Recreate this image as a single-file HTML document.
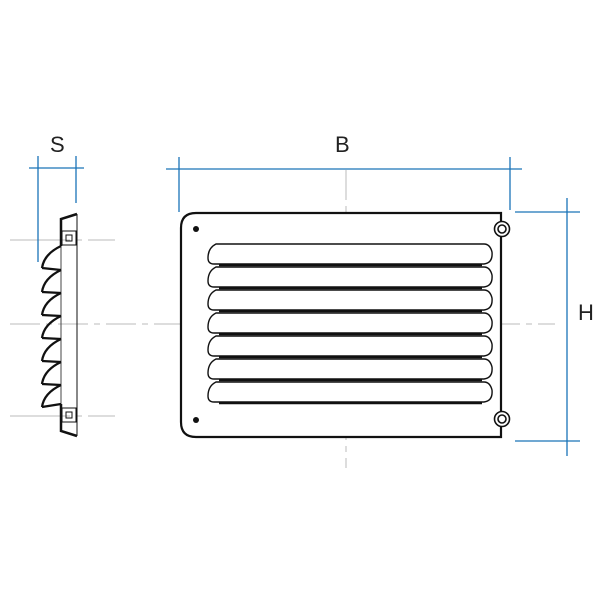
<!DOCTYPE html>
<html><head><style>body{margin:0;background:#fff}svg{display:block}text{font-family:"Liberation Sans",sans-serif;font-size:22px;fill:#222}</style></head><body>
<svg width="600" height="600" viewBox="0 0 600 600" xmlns="http://www.w3.org/2000/svg">
<g stroke="#bbb" stroke-width="1" fill="none">
<line x1="10" y1="324" x2="555" y2="324" stroke-dasharray="30,6,6,6"/>
<line x1="346" y1="170" x2="346" y2="468" stroke-dasharray="30,6,6,6"/>
<line x1="10" y1="240" x2="115" y2="240" stroke-dasharray="60,6,6,6"/>
<line x1="10" y1="416" x2="115" y2="416" stroke-dasharray="60,6,6,6"/>
</g>
<g stroke="#1a73b8" stroke-width="1.3" fill="none">
<line x1="166" y1="169" x2="522" y2="169"/><line x1="179" y1="157" x2="179" y2="212"/><line x1="510" y1="157" x2="510" y2="210"/>
<line x1="567" y1="198" x2="567" y2="456"/><line x1="515" y1="212" x2="580" y2="212"/><line x1="515" y1="441" x2="580" y2="441"/>
<line x1="29" y1="168" x2="84" y2="168"/><line x1="38" y1="156" x2="38" y2="262"/><line x1="76" y1="156" x2="76" y2="203"/>
</g>
<text x="335" y="152">B</text><text x="50" y="152">S</text><text x="578" y="320">H</text>
<path d="M196 213 H501 V437 H196 Q181 437 181 422 V228 Q181 213 196 213 Z" fill="#fff" stroke="#111" stroke-width="2.2"/>
<circle cx="196" cy="229" r="3" fill="#111"/><circle cx="196" cy="420" r="3" fill="#111"/>
<g fill="#fff" stroke="#111" stroke-width="1.6">
<circle cx="502" cy="229" r="7.5"/><circle cx="502" cy="229" r="4"/>
<circle cx="502" cy="419" r="7.5"/><circle cx="502" cy="419" r="4"/>
</g>
<g fill="#fff" stroke="#111" stroke-width="1.4">
<path id="l" d="M216 244 H484 Q490 244 492 252 Q493 263 484 264 H214 Q208 264 208 258 Q208 248 216 244 Z"/>
<use href="#l" y="23"/><use href="#l" y="46"/><use href="#l" y="69"/><use href="#l" y="92"/><use href="#l" y="115"/><use href="#l" y="138"/>
</g>
<g stroke="#111" stroke-width="2.5">
<line x1="219" y1="265" x2="482" y2="265"/><line x1="219" y1="288" x2="482" y2="288"/><line x1="219" y1="311" x2="482" y2="311"/><line x1="219" y1="334" x2="482" y2="334"/><line x1="219" y1="357" x2="482" y2="357"/><line x1="219" y1="380" x2="482" y2="380"/><line x1="219" y1="403" x2="482" y2="403"/>
</g>
<g fill="none" stroke="#111">
<line x1="77" y1="214" x2="77" y2="436" stroke-width="1"/>
<line x1="61" y1="244" x2="61" y2="404" stroke-width="1" stroke="#444"/>
<path d="M77 214 L61 219 V246" stroke-width="2.5"/>
<path d="M77 436 L61 431 V404" stroke-width="2.5"/>
<rect x="62" y="231" width="14" height="14" stroke-width="1"/><rect x="66" y="235" width="6" height="6" stroke-width="1"/>
<rect x="62" y="408" width="14" height="14" stroke-width="1"/><rect x="66" y="412" width="6" height="6" stroke-width="1"/>
<g stroke-width="2.3">
<path d="M61 246 Q44 254 42 268 M42 268 L61 270"/>
<path d="M61 270 Q44 278 42 292 M42 292 L61 293"/>
<path d="M61 293 Q44 301 42 315 M42 315 L61 316"/>
<path d="M61 316 Q44 324 42 338 M42 338 L61 339"/>
<path d="M61 339 Q44 347 42 361 M42 361 L61 362"/>
<path d="M61 362 Q44 370 42 384 M42 384 L61 385"/>
<path d="M61 385 Q44 393 42 407 M42 407 L61 404"/>
</g>
</g>
</svg>
</body></html>
